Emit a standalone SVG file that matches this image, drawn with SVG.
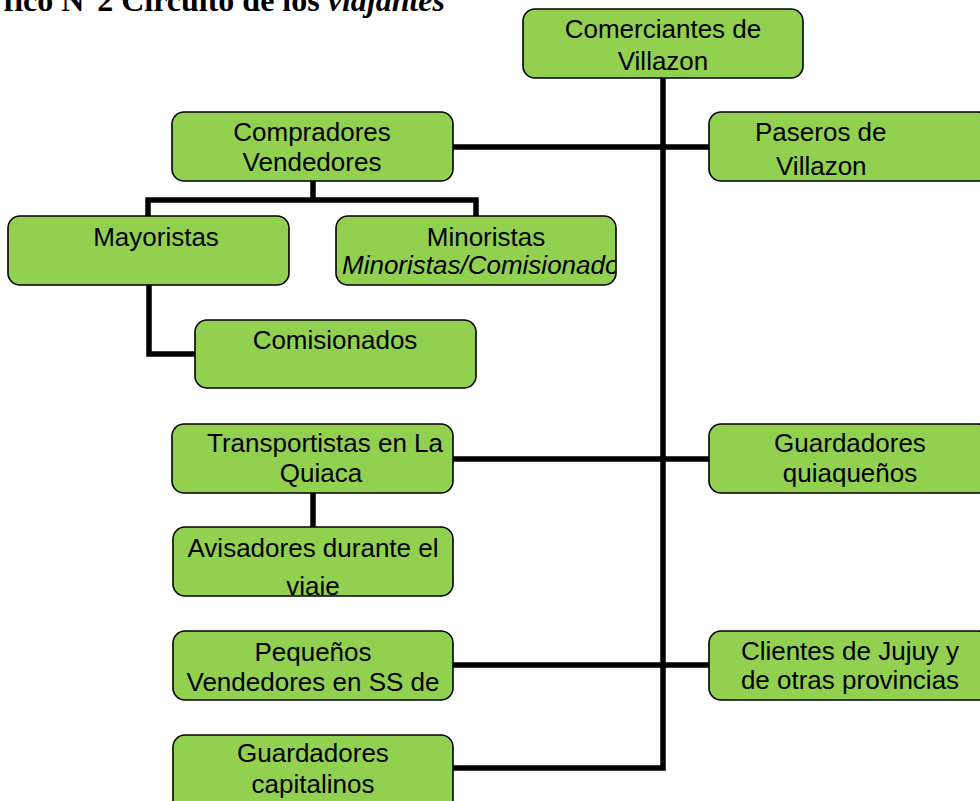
<svg xmlns="http://www.w3.org/2000/svg" width="980" height="801" viewBox="0 0 980 801">
<style>
.box{fill:#92D050;stroke:#000;stroke-width:1.6}
.t{font-family:"Liberation Sans",Arial,sans-serif;font-size:26px;fill:#000;text-anchor:middle}
.it{font-style:italic;text-anchor:start}
.ln{fill:none;stroke:#000;stroke-width:5.5;stroke-linejoin:miter}
.title{font-family:"Liberation Serif","Times New Roman",serif;font-weight:bold;font-size:32px;fill:#000;text-anchor:end}
</style>
<defs>
<clipPath id="cMin"><rect x="337" y="217" width="278" height="67" rx="11"/></clipPath>
<clipPath id="cAvi"><rect x="174" y="528" width="278" height="67" rx="11"/></clipPath>
</defs>
<rect width="980" height="801" fill="#fff"/>
<text class="title" x="445" y="11">fico N°2  Circuito de los <tspan font-style="italic">viajantes</tspan></text>
<g id="connectors">
<path class="ln" d="M663 78 V768 H453"/>
<path class="ln" d="M453 147 H710"/>
<path class="ln" d="M453 459 H710"/>
<path class="ln" d="M453 665 H710"/>
<path class="ln" d="M313 181 V200"/>
<path class="ln" d="M148 216 V200 H476 V216"/>
<path class="ln" d="M149 285 V354 H195"/>
<path class="ln" d="M313 493 V527"/>
</g>
<g id="comerciantes">
<rect class="box" x="523" y="9" width="280" height="69" rx="12"/>
<text class="t" x="663" y="38">Comerciantes de</text>
<text class="t" x="663" y="70">Villazon</text>
</g>
<g id="compradores">
<rect class="box" x="172" y="112" width="281" height="69" rx="12"/>
<text class="t" x="312" y="141">Compradores</text>
<text class="t" x="312" y="171">Vendedores</text>
</g>
<g id="paseros">
<rect class="box" x="709" y="112" width="281" height="69" rx="12"/>
<text class="t" x="755" y="141" style="text-anchor:start">Paseros de</text>
<text class="t" x="776" y="175" style="text-anchor:start">Villazon</text>
</g>
<g id="mayoristas">
<rect class="box" x="8" y="216" width="281" height="69" rx="12"/>
<text class="t" x="156" y="246">Mayoristas</text>
</g>
<g id="minoristas">
<rect class="box" x="336" y="216" width="280" height="69" rx="12"/>
<text class="t" x="486" y="246">Minoristas</text>
<text class="t it" x="342" y="274" clip-path="url(#cMin)">Minoristas/Comisionados</text>
</g>
<g id="comisionados">
<rect class="box" x="195" y="320" width="281" height="68" rx="12"/>
<text class="t" x="335" y="349">Comisionados</text>
</g>
<g id="transportistas">
<rect class="box" x="172" y="424" width="281" height="69" rx="12"/>
<text class="t" x="325" y="452">Transportistas en La</text>
<text class="t" x="321" y="482">Quiaca</text>
</g>
<g id="guardadores-quiaquenos">
<rect class="box" x="709" y="424" width="281" height="69" rx="12"/>
<text class="t" x="850" y="452">Guardadores</text>
<text class="t" x="850" y="482">quiaqueños</text>
</g>
<g id="avisadores">
<rect class="box" x="173" y="527" width="280" height="69" rx="12"/>
<text class="t" x="313" y="557">Avisadores durante el</text>
<text class="t" x="313" y="595" clip-path="url(#cAvi)">viaje</text>
</g>
<g id="pequenos">
<rect class="box" x="173" y="631" width="280" height="69" rx="12"/>
<text class="t" x="313" y="661">Pequeños</text>
<text class="t" x="313" y="691">Vendedores en SS de</text>
</g>
<g id="clientes">
<rect class="box" x="709" y="631" width="281" height="69" rx="12"/>
<text class="t" x="850" y="660">Clientes de Jujuy y</text>
<text class="t" x="850" y="689">de otras provincias</text>
</g>
<g id="guardadores-capitalinos">
<rect class="box" x="173" y="735" width="280" height="80" rx="12"/>
<text class="t" x="313" y="762">Guardadores</text>
<text class="t" x="313" y="793">capitalinos</text>
</g>
</svg>
